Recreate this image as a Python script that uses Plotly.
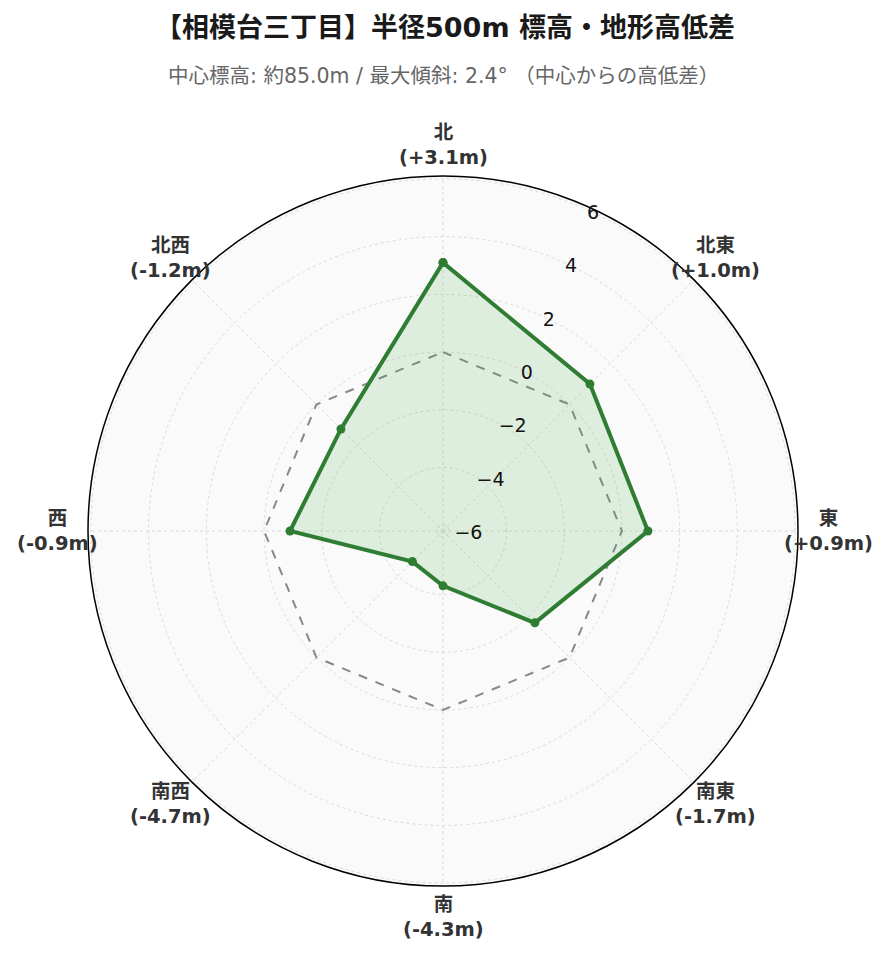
import math
import plotly.graph_objects as go

directions = ["北", "北東", "東", "南東", "南", "南西", "西", "北西"]
angles = [0, 45, 90, 135, 180, 225, 270, 315]
diffs = [3.1, 1.0, 0.9, -1.7, -4.3, -4.7, -0.9, -1.2]
zero_ref = [0, 0, 0, 0, 0, 0, 0, 0]
radial_ticks = [-6, -4, -2, 0, 2, 4, 6]
r_range = [-6.2, 6.1]

title_text = "【相模台三丁目】半径500m 標高・地形高低差"
subtitle_text = "中心標高: 約85.0m / 最大傾斜: 2.4° （中心からの高低差）"

labels = [f"<b>{d}<br>({v:+.1f}m)</b>" for d, v in zip(directions, diffs)]

FONT = "DejaVu Sans, Noto Sans CJK JP, sans-serif"
W, H = 889, 962
# page body has an 8px margin; compensate so the polar disc sits where the reference has it
T, B, L, R = 168, 84, 80, 99
plot_w = W - L - R
plot_h = H - T - B
disc_r = min(plot_w, plot_h) / 2
label_r = disc_r * 1.087  # direction labels sit just outside the rim

annotations = [dict(text=subtitle_text, x=0.5, y=(H - B - 68) / plot_h,
                    xref="paper", yref="paper", xanchor="center",
                    yanchor="middle", showarrow=False,
                    font=dict(size=20.5, color="#666666", family=FONT))]
for ang, lab in zip(angles, labels):
    a = math.radians(ang)
    annotations.append(dict(
        text=lab, xref="paper", yref="paper",
        x=0.5 + label_r * math.sin(a) / plot_w,
        y=0.5 + label_r * math.cos(a) / plot_h,
        xanchor="center", yanchor="middle", showarrow=False,
        font=dict(size=19.5, color="#333333", family=FONT)))

fig = go.Figure()
fig.add_trace(go.Scatterpolar(
    r=zero_ref + [zero_ref[0]], theta=angles + [angles[0]],
    mode="lines", line=dict(color="#888888", width=2, dash="dash"),
    hoverinfo="skip", showlegend=False))
fig.add_trace(go.Scatterpolar(
    r=diffs + [diffs[0]], theta=angles + [angles[0]],
    mode="lines+markers", fill="toself",
    fillcolor="rgba(76,175,80,0.16)",
    line=dict(color="#2e7d32", width=4),
    marker=dict(size=9, color="#2e7d32"),
    showlegend=False))

fig.update_layout(
    width=W, height=H,
    paper_bgcolor="white",
    margin=dict(l=L, r=R, t=T, b=B),
    font=dict(family=FONT),
    title=dict(text=f"<b>{title_text}</b>", x=437 / W, xanchor="center",
               y=1 - 20 / H, yanchor="middle", yref="container", xref="container",
               font=dict(size=27, color="#1a1a1a", family=FONT)),
    annotations=annotations,
    polar=dict(
        bgcolor="#fafafa",
        domain=dict(x=[0, 1], y=[0, 1]),
        angularaxis=dict(
            rotation=90, direction="clockwise",
            tickmode="array", tickvals=angles, showticklabels=False,
            showline=True, linecolor="black", linewidth=1.5,
            showgrid=True, gridcolor="#dadada", griddash="dot", gridwidth=1,
            ticks=""),
        radialaxis=dict(
            range=r_range, angle=67.5, tickangle=67.5,
            tickmode="array", tickvals=radial_ticks,
            tickfont=dict(size=19, color="#111111", family=FONT),
            showline=False, ticks="",
            showgrid=True, gridcolor="#dadada", griddash="dot", gridwidth=1,
        ),
    ),
)

fig.write_html("out.html")
